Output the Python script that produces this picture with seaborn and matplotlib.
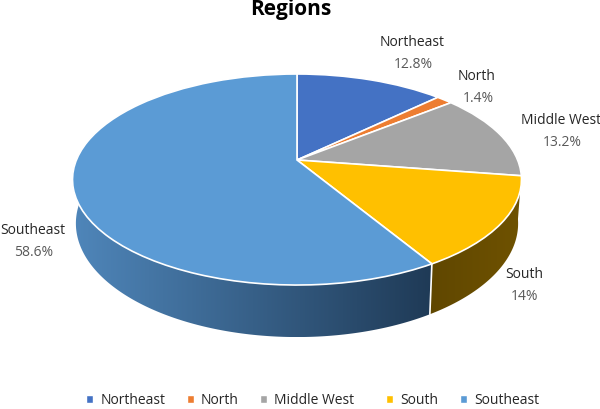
import numpy as np
import matplotlib
matplotlib.use("Agg")
import matplotlib.pyplot as plt
from matplotlib.patches import Patch, Polygon
from matplotlib.transforms import Transform
from matplotlib.colors import LinearSegmentedColormap
import seaborn as sns

sns.set_theme(style="white")
plt.rcParams["font.family"] = ["Open Sans", "DejaVu Sans"]

# data
regions = ["Northeast", "North", "Middle West", "South", "Southeast"]
shares = [12.8, 1.4, 13.2, 14.0, 58.6]
share_labels = ["12.8%", "1.4%", "13.2%", "14%", "58.6%"]
colors = ["#4472c4", "#ed7d31", "#a5a5a5", "#ffc000", "#5b9bd5"]

# where each label sits, in pixels
label_xy = [(412, 42), (477, 77), (561, 121), (524, 275), (33, 231)]

# tilted disc geometry, in pixels
CX, CY = 297, 160
RX, RY = 220.6, 101.9
TILT = 0.185
DEPTH = 42.4
BOTTOM_SHRINK = 0.985


class Perspective(Transform):
    input_dims = 2
    output_dims = 2
    is_separable = False
    has_inverse = False

    def transform_non_affine(self, values):
        values = np.asarray(values, dtype=float)
        w = 1 + TILT * values[:, 1]
        return np.column_stack((CX + RX * values[:, 0] / w, CY - RY * values[:, 1] / w))


def rim(theta):
    # top edge and lower edge of the side wall at angle theta (degrees)
    t = np.radians(theta)
    w = 1 + TILT * np.sin(t)
    x = CX + RX * np.cos(t) / w
    y = CY - RY * np.sin(t) / w
    return x, y, CX + (x - CX) * BOTTOM_SHRINK, y + DEPTH / w


fig, ax = plt.subplots(figsize=(6, 4.09), dpi=100)
fig.subplots_adjust(0, 0, 1, 1)

wedges, _ = ax.pie(
    shares,
    colors=colors,
    startangle=90,
    counterclock=False,
    wedgeprops=dict(edgecolor="white", linewidth=1.2, zorder=3),
)
persp = Perspective() + ax.transData
for w in wedges:
    w.set_transform(persp)

# side wall, only the front half shows
side_ends = {"South": ("#604700", "#6f5200"), "Southeast": ("#4f86ba", "#1f3a56")}
for name, w in zip(regions, wedges):
    if name not in side_ends:
        continue
    steps = np.arange(w.theta1, w.theta2 + 0.5, 0.5)
    steps = steps[np.sin(np.radians(steps)) < 0.12]
    xt, yt, xb, yb = rim(steps)
    outline = np.column_stack((np.r_[xt, xb[::-1]], np.r_[yt, yb[::-1]]))
    cmap = LinearSegmentedColormap.from_list(name, side_ends[name])
    im = ax.imshow(
        np.linspace(0, 1, 256).reshape(1, -1),
        cmap=cmap,
        aspect="auto",
        extent=(outline[:, 0].min(), outline[:, 0].max(), outline[:, 1].max(), outline[:, 1].min()),
        zorder=1,
    )
    clip = Polygon(outline, closed=True, transform=ax.transData)
    im.set_clip_path(clip)

ax.set_aspect("auto")
ax.set_xlim(0, 600)
ax.set_ylim(409, 0)
ax.set_axis_off()

# white seam between South and Southeast walls
sx, sy, sx2, sy2 = rim(wedges[3].theta1)
ax.plot([sx, sx2], [sy, sy2], color="white", lw=1.2, zorder=2)

for name, val, (x, y) in zip(regions, share_labels, label_xy):
    ax.text(x, y, name, ha="center", va="center", fontsize=10, color="#262626")
    ax.text(x + 1, y + 22, val, ha="center", va="center", fontsize=10, color="#595959")

ax.text(291, 10, "Regions", ha="center", va="center", fontsize=15, fontweight="bold", color="black")

# the gap after Middle West is wider in the original legend
legend_names = ["Northeast", "North", "Middle West   ", "South", "Southeast"]
handles = [Patch(facecolor=c, label=r) for c, r in zip(colors, legend_names)]
ax.legend(
    handles=handles,
    loc="center",
    bbox_to_anchor=(0.521, 0.021),
    bbox_transform=fig.transFigure,
    ncol=5,
    frameon=False,
    fontsize=10,
    handlelength=0.5,
    handleheight=0.5,
    handletextpad=0.5,
    columnspacing=1.55,
    borderpad=0,
    labelcolor="#262626",
)

fig.savefig("out.png", dpi=100)
